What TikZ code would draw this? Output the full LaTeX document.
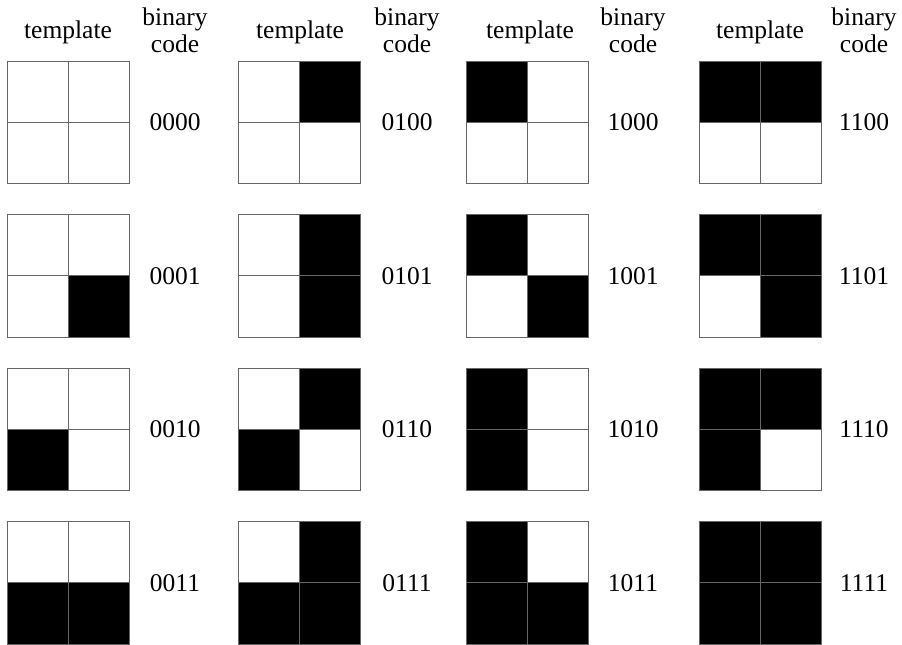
\documentclass[tikz,border=0pt]{standalone}
\usepackage{fontspec}
\setmainfont{Liberation Serif}
\newfontfamily\tnrfont{Liberation Serif}
\begin{document}
\begin{tikzpicture}[x=1pt,y=1pt,
  cellbox/.style={draw=black!60, line width=0.9pt, minimum size=61.25pt, inner sep=0pt, outer sep=0pt, anchor=north west},
  lbl/.style={font=\tnrfont\fontsize{25.5}{27}\selectfont, inner sep=0pt, anchor=base}]
\useasboundingbox (0,0) rectangle (902,645);
\foreach \c/\gx/\tx/\bx/\fa/\fb/\pa in {1/7/68/175/white/white/00, 2/238/300/407/white/black/01, 3/466/530/633/black/white/10, 4/699/760/864/black/black/11} {
  \node[lbl] (t\c) at (\tx,606) {template};
  \node[lbl] (b\c) at (\bx,619) {binary};
  \node[lbl] (d\c) at (\bx,592) {code};
  \foreach \r/\fc/\fd/\pb in {1/white/white/00, 2/white/black/01, 3/black/white/10, 4/black/black/11} {
    \pgfmathsetmacro\ty{645-61-153.5*(\r-1)}
    \node[cellbox, fill=\fa] (g\c\r a) at (\gx,\ty) {};
    \node[cellbox, fill=\fb] (g\c\r b) at (\gx+61.25,\ty) {};
    \node[cellbox, fill=\fc] (g\c\r c) at (\gx,\ty-61.25) {};
    \node[cellbox, fill=\fd] (g\c\r d) at (\gx+61.25,\ty-61.25) {};
    \node[lbl] (k\c\r) at (\bx,\ty-61.25-8.5) {\pa\pb};
  }
}
\end{tikzpicture}
\end{document}
